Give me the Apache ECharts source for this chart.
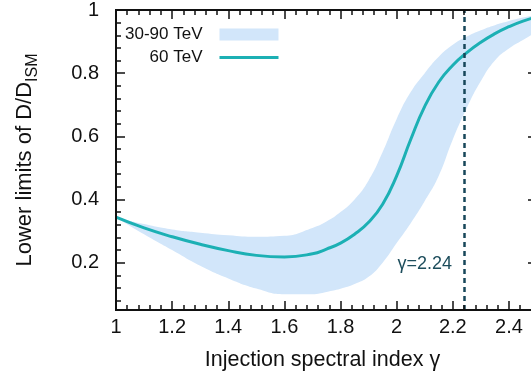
<!DOCTYPE html>
<html>
<head>
<meta charset="utf-8">
<script src="https://cdn.jsdelivr.net/npm/echarts@6/dist/echarts.min.js"></script>
<style>
  html, body { margin: 0; padding: 0; background: #fff; overflow: hidden; }
  /* the original figure is cropped on the right: the plot runs a few pixels past the window */
  #chart { width: 537px; height: 387px; }
</style>
</head>
<body>
<div id="chart"></div>
<script>
// injection spectral index (x) and lower limits of D/D_ISM
const gammas   = [1.0, 1.1, 1.2, 1.3, 1.4, 1.5, 1.6, 1.7, 1.75, 1.8, 1.85, 1.9, 1.95, 2.0, 2.05, 2.1, 2.15, 2.2, 2.25, 2.3, 2.35, 2.4, 2.45, 2.5];
const line60   = [0.344, 0.310, 0.282, 0.258, 0.238, 0.223, 0.218, 0.228, 0.243, 0.262, 0.290, 0.328, 0.385, 0.475, 0.590, 0.695, 0.772, 0.825, 0.865, 0.898, 0.925, 0.947, 0.965, 0.978];
const bandHigh = [0.344, 0.322, 0.305, 0.295, 0.287, 0.282, 0.285, 0.310, 0.330, 0.360, 0.400, 0.460, 0.550, 0.655, 0.740, 0.800, 0.852, 0.890, 0.916, 0.936, 0.952, 0.965, 0.976, 0.985];
const bandLow  = [0.344, 0.290, 0.240, 0.190, 0.150, 0.118, 0.100, 0.100, 0.107, 0.117, 0.132, 0.155, 0.200, 0.262, 0.325, 0.395, 0.475, 0.590, 0.690, 0.775, 0.840, 0.878, 0.905, 0.930];

const xTicks = [1, 1.2, 1.4, 1.6, 1.8, 2, 2.2, 2.4];
const yTicks = [0.2, 0.4, 0.6, 0.8, 1];
const gammaMark = 2.24;
const markLabelY = 0.197;

// minor ticks every 0.04, skipping the major ones
function minorTicks(from, to, majors) {
  const out = [];
  for (let k = Math.ceil(from / 0.04 - 1e-9); k * 0.04 <= to + 1e-9; k++) {
    const v = Math.round(k * 4) / 100;
    if (majors.indexOf(v) < 0) out.push(v);
  }
  return out;
}
const xMinor = minorTicks(1, 2.5, xTicks);
const yMinor = minorTicks(0.05, 1, yTicks);

const font = "'Liberation Sans', Arial, Helvetica, sans-serif";
const ink = '#111';
const teal = '#1cb0b4';
const band = '#d2e6fa';
const markColor = '#17475a';

const pairs = (ys) => gammas.map((g, i) => [g, ys[i]]);

function xAx(pos, ticks, len, labels) {
  return {
    type: 'value', min: 1, max: 2.5, position: pos, z: 5,
    splitLine: { show: false },
    axisLine: { show: true, onZero: false, lineStyle: { color: ink, width: 2 } },
    axisTick: { show: true, inside: true, length: len, customValues: ticks, lineStyle: { color: ink, width: 1.5 } },
    axisLabel: labels ? { show: true, customValues: ticks, margin: 7, fontSize: 20, fontFamily: font, color: ink } : { show: false }
  };
}
function yAx(pos, ticks, len, labels) {
  return {
    type: 'value', min: 0.05, max: 1, position: pos, z: 5,
    splitLine: { show: false },
    axisLine: { show: true, onZero: false, lineStyle: { color: ink, width: 2 } },
    axisTick: { show: true, inside: true, length: len, customValues: ticks, lineStyle: { color: ink, width: 1.5 } },
    axisLabel: labels ? { show: true, customValues: ticks, margin: 17, fontSize: 20, fontFamily: font, color: ink } : { show: false }
  };
}

const xMain = Object.assign(xAx('bottom', xTicks, 9, true), {
  name: 'Injection spectral index γ',
  nameLocation: 'middle',
  nameGap: 39,
  nameTextStyle: { fontSize: 21.5, fontFamily: font, color: ink, padding: [0, 8, 0, 0] }
});
const yMain = Object.assign(yAx('left', yTicks, 9, true), {
  name: '{a|Lower limits of D/D}{b|ISM}',
  nameLocation: 'middle',
  nameGap: 75,
  nameTextStyle: {
    fontFamily: font, color: ink,
    rich: {
      a: { fontSize: 22, lineHeight: 27, verticalAlign: 'top', fontFamily: font, color: ink },
      b: { fontSize: 16, lineHeight: 16, verticalAlign: 'bottom', fontFamily: font, color: ink }
    }
  }
});

const chart = echarts.init(document.getElementById('chart'));
chart.setOption({
  animation: false,
  backgroundColor: '#fff',
  grid: { left: 116, top: 7, right: 0, bottom: 77 },
  legend: {
    orient: 'vertical', left: 120, top: 21, align: 'right',
    itemWidth: 59, itemHeight: 12, itemGap: 6,
    textStyle: { fontSize: 17, fontFamily: font, color: ink, padding: [0, 12, 0, 0] },
    data: [
      { name: '30-90 TeV', icon: 'rect', itemStyle: { color: band } },
      { name: '60 TeV', icon: 'path://M0,0 M0,12 M0,4.5 L59,4.5 L59,7.5 L0,7.5 Z', itemStyle: { color: teal } }
    ]
  },
  xAxis: [
    xMain,
    xAx('bottom', xMinor, 5, false),
    xAx('top', xTicks, 9, false),
    xAx('top', xMinor, 5, false)
  ],
  yAxis: [
    yMain,
    yAx('left', yMinor, 5, false),
    yAx('right', yTicks, 9, false),
    yAx('right', yMinor, 5, false)
  ],
  series: [
    {
      name: '30-90 TeV', type: 'line', data: pairs(bandHigh), smooth: true,
      symbol: 'none', showSymbol: false, silent: true,
      lineStyle: { width: 0, opacity: 0 }, itemStyle: { color: band },
      areaStyle: { color: band, opacity: 1, origin: 'start' }
    },
    {
      name: 'bandMask', type: 'line', data: pairs(bandLow), smooth: true,
      symbol: 'none', showSymbol: false, silent: true,
      lineStyle: { width: 0, opacity: 0 }, itemStyle: { color: '#fff' },
      areaStyle: { color: '#fff', opacity: 1, origin: 'start' }
    },
    {
      name: '60 TeV', type: 'line', data: pairs(line60), smooth: true,
      symbol: 'none', showSymbol: false,
      lineStyle: { width: 3, color: teal }, itemStyle: { color: teal },
      markLine: {
        silent: true, symbol: ['none', 'none'], label: { show: false },
        lineStyle: { color: markColor, width: 2.5, type: [5, 4] },
        data: [{ xAxis: gammaMark }]
      },
      markPoint: {
        symbol: 'circle', symbolSize: 0, silent: true,
        label: {
          show: true, position: 'left', distance: 12,
          formatter: 'γ=' + gammaMark,
          fontSize: 18, fontFamily: font, color: '#1d4d5c'
        },
        data: [{ coord: [gammaMark, markLabelY] }]
      }
    }
  ]
});
</script>
</body>
</html>
